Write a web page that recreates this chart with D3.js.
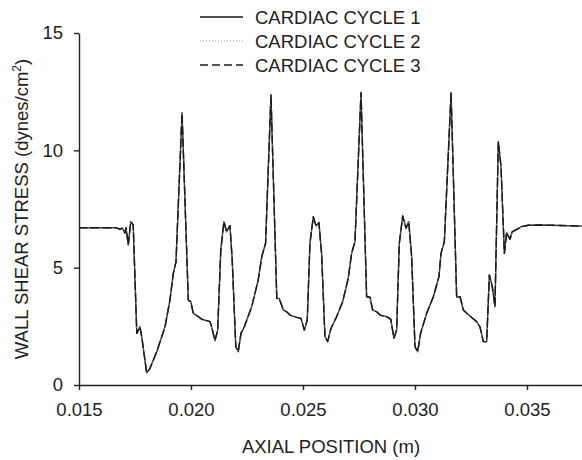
<!DOCTYPE html>
<html>
<head>
<meta charset="utf-8">
<script src="https://cdn.jsdelivr.net/npm/d3@7"></script>
<style>
  html, body { margin: 0; padding: 0; background: #fff; }
  svg { display: block; }
  text { font-family: "Liberation Sans", Arial, sans-serif; fill: #222; }
</style>
</head>
<body>
<svg id="chart" width="582" height="460"></svg>
<script>
// Axial position along the vessel wall (m)
const axialPosition = [
  0.01500, 0.01668, 0.01683, 0.01693, 0.01705, 0.01710, 0.01720, 0.01731, 0.01742, 0.01758,
  0.01772, 0.01780, 0.01802, 0.01817, 0.01847, 0.01884, 0.01906, 0.01921, 0.01933, 0.01960,
  0.01988, 0.01999, 0.02010, 0.02033, 0.02048, 0.02085, 0.02092, 0.02107, 0.02119, 0.02133,
  0.02147, 0.02159, 0.02174, 0.02184, 0.02200, 0.02211, 0.02223, 0.02238, 0.02271, 0.02300,
  0.02316, 0.02333, 0.02357, 0.02383, 0.02394, 0.02412, 0.02427, 0.02442, 0.02472, 0.02491,
  0.02506, 0.02519, 0.02531, 0.02546, 0.02558, 0.02571, 0.02583, 0.02598, 0.02610, 0.02625,
  0.02650, 0.02677, 0.02702, 0.02717, 0.02732, 0.02759, 0.02784, 0.02799, 0.02811, 0.02829,
  0.02844, 0.02874, 0.02892, 0.02906, 0.02918, 0.02930, 0.02945, 0.02960, 0.02972, 0.02985,
  0.03000, 0.03012, 0.03025, 0.03052, 0.03082, 0.03107, 0.03116, 0.03131, 0.03161, 0.03186,
  0.03201, 0.03216, 0.03231, 0.03253, 0.03275, 0.03290, 0.03305, 0.03320, 0.03332, 0.03345,
  0.03357, 0.03372, 0.03384, 0.03399, 0.03409, 0.03424, 0.03434, 0.03454, 0.03476, 0.03506,
  0.03550, 0.03650, 0.03746
];

// Wall shear stress (dynes/cm^2) for each cardiac cycle
const wssCycle1 = [
  6.70, 6.70, 6.63, 6.69, 6.48, 6.69, 5.97, 6.96, 6.82, 2.20,
  2.48, 2.06, 0.52, 0.71, 1.42, 2.48, 3.62, 4.76, 5.25, 11.60,
  3.62, 3.55, 3.06, 2.91, 2.80, 2.70, 2.48, 1.89, 2.34, 5.75,
  6.96, 6.53, 6.79, 5.33, 1.63, 1.42, 2.20, 2.48, 3.34, 4.47,
  5.47, 6.04, 12.36, 3.69, 3.69, 3.20, 3.12, 2.98, 2.88, 2.84,
  2.34, 2.77, 6.04, 7.17, 6.78, 6.92, 5.61, 2.06, 1.85, 2.42,
  2.91, 3.55, 4.55, 5.61, 6.11, 12.46, 3.76, 3.74, 3.20, 3.12,
  2.98, 2.91, 2.80, 1.99, 2.34, 6.04, 7.20, 6.68, 6.96, 5.47,
  1.63, 1.42, 2.20, 3.06, 3.76, 4.62, 5.61, 6.11, 12.46, 3.74,
  3.76, 3.20, 3.06, 2.88, 2.70, 2.48, 1.85, 1.85, 4.69, 4.19,
  3.34, 10.37, 9.30, 5.61, 6.49, 6.21, 6.53, 6.63, 6.75, 6.81,
  6.82, 6.80, 6.77
];
// Cycles 2 and 3 are periodic and coincide with cycle 1
const wssCycle2 = wssCycle1;
const wssCycle3 = wssCycle1;

const seriesNames = ["CARDIAC CYCLE 1", "CARDIAC CYCLE 2", "CARDIAC CYCLE 3"];
const xTickValues = [0.015, 0.020, 0.025, 0.030, 0.035];
const yTickValues = [0, 5, 10, 15];

const svg = d3.select("#chart");
const plotLeft = 79, plotBottom = 385, plotTop = 33, plotRight = 583;
const fontSize = 18.5;

const x = d3.scaleLinear().domain([0.015, 0.0375]).range([plotLeft, plotRight]);
const y = d3.scaleLinear().domain([0, 15]).range([plotBottom, plotTop]);

const styles = [
  { color: "#1a1a1a", width: 1.4, dash: null },
  { color: "#9a9a9a", width: 1.2, dash: "1,2" },
  { color: "#1a1a1a", width: 1.4, dash: "8,4" }
];
const seriesValues = [wssCycle1, wssCycle2, wssCycle3];

// axes
const xAxis = svg.append("g")
  .attr("transform", `translate(0,${plotBottom})`)
  .call(d3.axisBottom(x).tickValues(xTickValues).tickFormat(d3.format(".3f"))
    .tickSize(5).tickSizeOuter(0).tickPadding(13));
const yAxis = svg.append("g")
  .attr("transform", `translate(${plotLeft},0)`)
  .call(d3.axisLeft(y).tickValues(yTickValues).tickFormat(d3.format("d"))
    .tickSize(5).tickSizeOuter(0).tickPadding(11));

[xAxis, yAxis].forEach(g => {
  g.selectAll("path, line").attr("stroke", "#222").attr("stroke-width", 1.4);
  g.selectAll("text").attr("font-size", fontSize).attr("fill", "#222")
    .attr("font-family", "'Liberation Sans', Arial, sans-serif");
});

// axis titles
svg.append("text")
  .attr("x", (plotLeft + plotRight) / 2).attr("y", 453)
  .attr("text-anchor", "middle").attr("font-size", fontSize)
  .text("AXIAL POSITION (m)");

const yTitle = svg.append("text")
  .attr("transform", `translate(28,${(plotTop + plotBottom) / 2}) rotate(-90)`)
  .attr("text-anchor", "middle").attr("font-size", fontSize);
yTitle.append("tspan").text("WALL SHEAR STRESS (dynes/cm");
yTitle.append("tspan").attr("font-size", 12).attr("dy", -7).text("2");
yTitle.append("tspan").attr("dy", 7).text(")");

// series
const line = d3.line()
  .x((d, i) => x(axialPosition[i]))
  .y(d => y(d));

seriesValues.forEach((vals, k) => {
  svg.append("path")
    .datum(vals)
    .attr("fill", "none")
    .attr("stroke", styles[k].color)
    .attr("stroke-width", styles[k].width)
    .attr("stroke-linejoin", "round")
    .attr("stroke-dasharray", styles[k].dash)
    .attr("d", line);
});

// legend
const legendY = [17, 41, 65];
seriesNames.forEach((name, k) => {
  const g = svg.append("g").attr("transform", `translate(0,${legendY[k]})`);
  g.append("line")
    .attr("x1", 200).attr("x2", 243).attr("y1", 0).attr("y2", 0)
    .attr("stroke", styles[k].color)
    .attr("stroke-width", styles[k].width)
    .attr("stroke-dasharray", styles[k].dash);
  g.append("text")
    .attr("x", 255).attr("y", 0).attr("dy", "0.36em")
    .attr("font-size", fontSize)
    .text(name);
});
</script>
</body>
</html>
